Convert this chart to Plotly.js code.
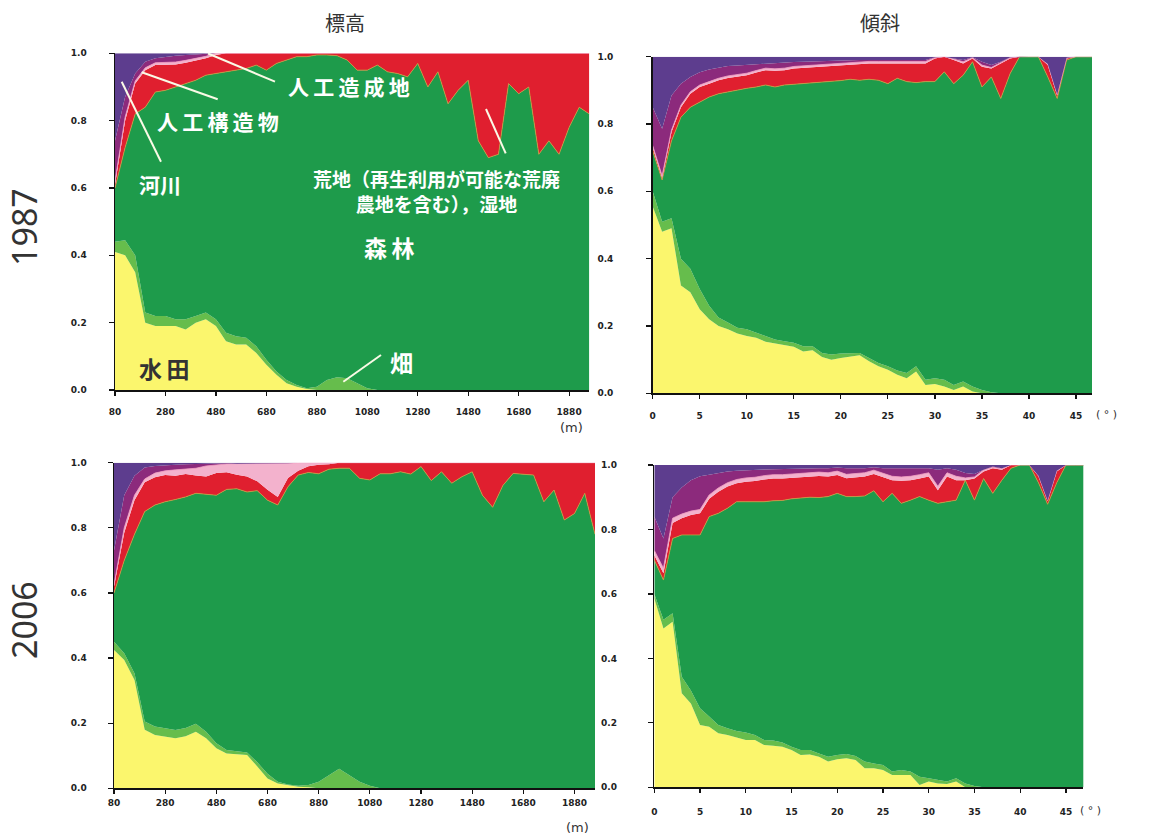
<!DOCTYPE html>
<html><head><meta charset="utf-8">
<script src="https://cdn.plot.ly/plotly-3.0.1.min.js"></script>
<style>html,body{margin:0;padding:0;background:#fff}#chart{width:1169px;height:839px}</style>
</head><body><div id="chart"></div>
<script>
// ---- categories (land use, bottom to top) ----
const landUse = ['水田','畑','森林','荒地（再生利用が可能な荒廃農地を含む），湿地','人工造成地','人工構造物','河川'];
const colors  = ['#fbf66d','#66bd4c','#1e9b4b','#e01f2f','#f3b2cd','#8c2a7c','#5d3d8e'];

// ---- x categories ----
const elevX = [80,120,160,200,240,280,320,360,400,440,480,520,560,600,640,680,720,760,800,840,880,920,960,1000,1040,1080,1120,1160,1200,1240,1280,1320,1360,1400,1440,1480,1520,1560,1600,1640,1680,1720,1760,1800,1840,1880,1920,1960];
const slopeX = [0,1,2,3,4,5,6,7,8,9,10,11,12,13,14,15,16,17,18,19,20,21,22,23,24,25,26,27,28,29,30,31,32,33,34,35,36,37,38,39,40,41,42,43,44,45,46,47];
const elevTicks = [80,280,480,680,880,1080,1280,1480,1680,1880];
const slopeTicks = [0,5,10,15,20,25,30,35,40,45];
const shareTicks = [0,0.2,0.4,0.6,0.8,1.0];

// ---- cumulative share (upper edge of each land use), 1987, elevation ----
const e87_paddy  = [0.41,0.40,0.35,0.20,0.19,0.19,0.19,0.18,0.20,0.21,0.19,0.145,0.135,0.135,0.11,0.075,0.045,0.02,0.01,0.003,0,0,0,0,0,0,0,0,0,0,0,0,0,0,0,0,0,0,0,0,0,0,0,0,0,0,0,0];
const e87_field  = [0.44,0.445,0.40,0.23,0.22,0.22,0.21,0.21,0.22,0.23,0.21,0.17,0.16,0.155,0.13,0.09,0.055,0.03,0.015,0.005,0.01,0.03,0.038,0.035,0.02,0.005,0,0,0,0,0,0,0,0,0,0,0,0,0,0,0,0,0,0,0,0,0,0];
const e87_forest = [0.60,0.72,0.82,0.84,0.885,0.89,0.90,0.91,0.92,0.935,0.94,0.945,0.95,0.955,0.965,0.95,0.97,0.98,0.99,0.99,0.995,0.995,0.993,0.98,0.95,0.95,0.965,0.945,0.94,0.93,0.97,0.90,0.945,0.85,0.89,0.92,0.74,0.69,0.70,0.91,0.88,0.90,0.70,0.74,0.70,0.78,0.84,0.82];
const e87_waste  = [0.61,0.80,0.91,0.95,0.965,0.965,0.967,0.972,0.978,0.985,0.995,1,1,1,1,1,1,1,1,1,1,1,1,1,1,1,1,1,1,1,1,1,1,1,1,1,1,1,1,1,1,1,1,1,1,1,1,1];
const e87_devel  = [0.62,0.81,0.918,0.957,0.972,0.972,0.974,0.979,0.985,0.991,1,1,1,1,1,1,1,1,1,1,1,1,1,1,1,1,1,1,1,1,1,1,1,1,1,1,1,1,1,1,1,1,1,1,1,1,1,1];
const e87_struct = [0.74,0.87,0.94,0.975,0.985,0.99,0.993,0.995,0.997,0.998,1,1,1,1,1,1,1,1,1,1,1,1,1,1,1,1,1,1,1,1,1,1,1,1,1,1,1,1,1,1,1,1,1,1,1,1,1,1];

// ---- 2006, elevation ----
const e06_paddy  = [0.425,0.394,0.333,0.18,0.164,0.159,0.154,0.16,0.174,0.154,0.123,0.107,0.105,0.102,0.067,0.03,0.015,0.01,0.005,0.003,0,0,0,0,0,0,0,0,0,0,0,0,0,0,0,0,0,0,0,0,0,0,0,0,0,0,0,0];
const e06_field  = [0.45,0.415,0.353,0.205,0.19,0.184,0.179,0.185,0.198,0.174,0.138,0.118,0.113,0.11,0.08,0.045,0.02,0.012,0.008,0.01,0.02,0.04,0.06,0.04,0.02,0.008,0,0,0,0,0,0,0,0,0,0,0,0,0,0,0,0,0,0,0,0,0,0];
const e06_forest = [0.60,0.70,0.78,0.85,0.87,0.88,0.887,0.895,0.906,0.903,0.90,0.918,0.92,0.91,0.914,0.885,0.87,0.926,0.962,0.97,0.966,0.98,0.983,0.983,0.952,0.947,0.966,0.966,0.972,0.965,0.988,0.945,0.972,0.937,0.957,0.972,0.90,0.863,0.93,0.967,0.965,0.962,0.88,0.916,0.824,0.844,0.906,0.78];
const e06_waste  = [0.62,0.785,0.885,0.94,0.955,0.962,0.96,0.965,0.961,0.958,0.968,0.971,0.963,0.958,0.943,0.917,0.895,0.953,0.975,0.989,0.994,0.995,1,1,1,1,1,1,1,1,1,1,1,1,1,1,1,1,1,1,1,1,1,1,1,1,1,1];
const e06_devel  = [0.625,0.80,0.90,0.95,0.968,0.975,0.978,0.981,0.983,0.99,0.994,0.996,0.997,0.997,0.997,0.997,0.997,0.998,1,1,1,1,1,1,1,1,1,1,1,1,1,1,1,1,1,1,1,1,1,1,1,1,1,1,1,1,1,1];
const e06_struct = [0.73,0.90,0.96,0.985,0.99,0.993,0.994,0.995,0.996,0.997,0.998,0.998,0.997,0.997,0.997,0.997,0.997,0.998,1,1,1,1,1,1,1,1,1,1,1,1,1,1,1,1,1,1,1,1,1,1,1,1,1,1,1,1,1,1];

// ---- 1987, slope ----
const s87_paddy  = [0.555,0.48,0.49,0.32,0.30,0.25,0.22,0.20,0.19,0.178,0.17,0.165,0.153,0.148,0.143,0.138,0.124,0.128,0.108,0.10,0.105,0.11,0.113,0.095,0.08,0.07,0.055,0.045,0.065,0.025,0.028,0.02,0.01,0.02,0.005,0,0,0,0,0,0,0,0,0,0,0,0,0];
const s87_field  = [0.60,0.51,0.52,0.40,0.37,0.31,0.26,0.225,0.21,0.195,0.19,0.18,0.17,0.16,0.155,0.15,0.14,0.14,0.12,0.115,0.118,0.12,0.12,0.105,0.09,0.08,0.068,0.06,0.08,0.04,0.045,0.04,0.025,0.035,0.02,0.01,0.003,0,0,0,0,0,0,0,0,0,0,0];
const s87_forest = [0.72,0.634,0.75,0.82,0.85,0.866,0.88,0.89,0.896,0.90,0.906,0.91,0.916,0.91,0.916,0.918,0.92,0.923,0.923,0.926,0.929,0.933,0.93,0.933,0.93,0.92,0.936,0.926,0.923,0.926,0.926,0.955,0.92,0.945,0.985,0.91,0.94,0.876,0.95,1,1,1,0.94,0.876,0.99,1,1,1];
const s87_waste  = [0.73,0.64,0.776,0.85,0.89,0.91,0.92,0.93,0.937,0.94,0.945,0.953,0.96,0.958,0.96,0.965,0.967,0.969,0.972,0.974,0.976,0.978,0.98,0.98,0.98,0.98,0.98,0.98,0.98,0.98,0.995,1,0.99,0.98,0.995,0.97,0.965,0.98,0.995,1,1,1,0.975,0.885,0.995,1,1,1];
const s87_devel  = [0.736,0.646,0.782,0.856,0.896,0.916,0.926,0.936,0.943,0.946,0.951,0.959,0.966,0.964,0.966,0.971,0.973,0.975,0.978,0.98,0.982,0.984,0.986,0.986,0.986,0.986,0.986,0.986,0.986,0.986,0.997,1,0.993,0.985,0.997,0.975,0.968,0.983,0.997,1,1,1,0.978,0.888,0.997,1,1,1];
const s87_struct = [0.85,0.786,0.885,0.92,0.94,0.954,0.962,0.967,0.972,0.974,0.976,0.978,0.98,0.982,0.982,0.984,0.985,0.986,0.987,0.988,0.99,0.99,0.99,0.99,0.99,0.99,0.99,0.99,0.99,0.99,0.998,1,0.995,0.99,0.998,0.985,0.975,0.985,0.998,1,1,1,0.978,0.888,0.997,1,1,1];

// ---- 2006, slope ----
const s06_paddy  = [0.586,0.493,0.514,0.292,0.26,0.193,0.188,0.168,0.162,0.154,0.147,0.147,0.131,0.129,0.126,0.116,0.10,0.102,0.095,0.08,0.087,0.09,0.085,0.059,0.059,0.054,0.038,0.038,0.038,0.007,0.018,0.012,0.01,0.018,0,0,0,0,0,0,0,0,0,0,0,0,0,0];
const s06_field  = [0.60,0.52,0.54,0.343,0.30,0.245,0.22,0.193,0.183,0.175,0.17,0.162,0.147,0.145,0.139,0.126,0.116,0.116,0.105,0.095,0.10,0.103,0.097,0.08,0.074,0.069,0.049,0.054,0.049,0.033,0.028,0.023,0.018,0.028,0.012,0.004,0,0,0,0,0,0,0,0,0,0,0,0];
const s06_forest = [0.705,0.643,0.772,0.783,0.783,0.783,0.84,0.85,0.866,0.886,0.886,0.886,0.886,0.889,0.89,0.895,0.897,0.90,0.899,0.902,0.912,0.902,0.902,0.904,0.92,0.886,0.912,0.881,0.891,0.902,0.891,0.881,0.886,0.891,0.953,0.891,0.958,0.912,0.953,0.99,1,1,0.945,0.878,0.945,1,1,1];
const s06_waste  = [0.72,0.664,0.82,0.835,0.845,0.85,0.895,0.917,0.933,0.943,0.948,0.95,0.955,0.958,0.958,0.96,0.964,0.964,0.966,0.964,0.969,0.959,0.962,0.964,0.972,0.962,0.953,0.951,0.953,0.958,0.964,0.922,0.964,0.953,0.953,0.958,0.98,0.99,0.985,1,1,1,0.965,0.888,0.98,1,1,1];
const s06_devel  = [0.735,0.68,0.835,0.848,0.857,0.862,0.907,0.929,0.945,0.955,0.96,0.962,0.967,0.97,0.97,0.972,0.976,0.976,0.978,0.976,0.981,0.971,0.974,0.976,0.984,0.974,0.965,0.963,0.965,0.97,0.976,0.934,0.976,0.965,0.96,0.963,0.985,0.993,0.988,1,1,1,0.967,0.89,0.982,1,1,1];
const s06_struct = [0.84,0.772,0.90,0.93,0.953,0.965,0.97,0.975,0.98,0.982,0.984,0.985,0.986,0.987,0.988,0.988,0.989,0.99,0.99,0.99,0.992,0.99,0.99,0.99,0.993,0.99,0.99,0.99,0.99,0.99,0.99,0.985,0.99,0.985,0.975,0.972,0.985,0.995,0.99,1,1,1,0.967,0.89,0.982,1,1,1];

const TOTAL = 1.0; // every bin sums to 100 %

const W = 1169, H = 839;
const PX = p => p / W, PY = p => 1 - p / H;

const panels = [
  {x: elevX,  layers: [e87_paddy,e87_field,e87_forest,e87_waste,e87_devel,e87_struct], ax: 'x',  ay: 'y'},
  {x: slopeX, layers: [s87_paddy,s87_field,s87_forest,s87_waste,s87_devel,s87_struct], ax: 'x2', ay: 'y2'},
  {x: elevX,  layers: [e06_paddy,e06_field,e06_forest,e06_waste,e06_devel,e06_struct], ax: 'x3', ay: 'y3'},
  {x: slopeX, layers: [s06_paddy,s06_field,s06_forest,s06_waste,s06_devel,s06_struct], ax: 'x4', ay: 'y4'}
];

const traces = [];
panels.forEach(p => {
  const tops = p.layers.concat([p.x.map(() => TOTAL)]);
  tops.forEach((y, i) => {
    let line = {width: 0, color: colors[i]};
    if (i === 2) line = {width: 0.8, color: '#c2a23e'};
    if (i === 4) line = {width: 0.8, color: '#f29cc0'};
    traces.push({
      type: 'scatter', mode: 'lines', x: p.x, y: y, name: landUse[i],
      fill: i === 0 ? 'tozeroy' : 'tonexty', fillcolor: colors[i],
      line: line, xaxis: p.ax, yaxis: p.ay, hoverinfo: 'skip', showlegend: false
    });
  });
});

const tickFont = {family: 'DejaVu Sans', size: 9, color: '#222', weight: 'bold'};
function xAx(dom, range, ticks, standoff) {
  return {domain: dom, range: range, tickvals: ticks, showline: true, linecolor: '#111', linewidth: 1.5,
    ticks: 'outside', ticklen: 4, tickcolor: '#111', tickwidth: 1.2, showgrid: false, zeroline: false,
    tickfont: tickFont, ticklabelstandoff: standoff, fixedrange: true};
}
function yAx(dom, standoff, anchor) {
  return {domain: dom, range: [0, 1], tickvals: shareTicks, tickformat: '.1f', showline: true, linecolor: '#111',
    linewidth: 1.5, ticks: 'outside', ticklen: 5, tickcolor: '#111', tickwidth: 1.2, showgrid: false,
    zeroline: false, tickfont: tickFont, ticklabelstandoff: standoff, anchor: anchor, fixedrange: true};
}

const layout = {
  width: W, height: H, margin: {l: 0, r: 0, t: 0, b: 0}, paper_bgcolor: '#fff', plot_bgcolor: '#fff',
  showlegend: false,
  xaxis:  xAx([PX(115), PX(589.3)], [80, 1960], elevTicks, 9),
  yaxis:  yAx([PY(390), PY(53.3)], 20, 'x'),
  xaxis2: xAx([PX(652.7), PX(1092)], [0, 46.7], slopeTicks, 9),
  yaxis2: yAx([PY(393.3), PY(56.7)], 31, 'x2'),
  xaxis3: xAx([PX(114), PX(595)], [80, 1960], elevTicks, 1),
  yaxis3: yAx([PY(788.3), PY(462.7)], 19, 'x3'),
  xaxis4: xAx([PX(654.3), PX(1083.3)], [0, 46.9], slopeTicks, 11),
  yaxis4: yAx([PY(787.3), PY(465)], 29, 'x4'),
  annotations: [],
  shapes: []
};
layout.xaxis.anchor = 'y'; layout.xaxis2.anchor = 'y2'; layout.xaxis3.anchor = 'y3'; layout.xaxis4.anchor = 'y4';

const cjk = 'Noto Sans CJK JP';
function note(text, x, y, size, color, bold, extra) {
  layout.annotations.push(Object.assign({
    text: text, xref: 'paper', yref: 'paper', x: PX(x), y: PY(y), xanchor: 'center', yanchor: 'middle',
    showarrow: false, font: {family: cjk, size: size, color: color, weight: bold ? 'bold' : 'normal'}
  }, extra || {}));
}
const sp = s => s.split('').join('\u2009'); // slight letter spacing as in the original labels
// column and row titles
note('標高', 345, 23, 20, '#333', false);
note('傾斜', 880, 23, 20, '#333', false);
note('1987', 24, 227, 34, '#333', false, {textangle: -90, font: {family: 'Noto Sans', size: 34, color: '#333'}});
note('2006', 24, 620, 34, '#333', false, {textangle: -90, font: {family: 'Noto Sans', size: 34, color: '#333'}});
// units
note('(m)', 571, 427, 13, '#333', false, {font: {family: 'DejaVu Sans', size: 13, color: '#333'}});
note('(m)', 577, 827, 13, '#333', false, {font: {family: 'DejaVu Sans', size: 13, color: '#333'}});
note('( ° )', 1106, 414, 11, '#333', false, {font: {family: 'DejaVu Sans', size: 11, color: '#333'}});
note('( ° )', 1090, 810, 11, '#333', false, {font: {family: 'DejaVu Sans', size: 11, color: '#333'}});
// in-chart labels
note(sp('人工造成地'), 349, 86, 21, '#fff', true);
note(sp('人工構造物'), 218, 121, 21, '#fff', true);
note('河川', 160, 184, 21, '#fff', true);
note('荒地（再生利用が可能な荒廃<br>農地を含む），湿地', 436, 191, 19, '#fff', true, {align: 'center'});
note(sp('森林'), 390, 247, 23, '#fff', true);
note(sp('水田'), 164, 368, 23, '#333', true);
note('畑', 401, 362, 23, '#fff', true);

function callout(x0, y0, x1, y1) {
  layout.shapes.push({type: 'line', xref: 'paper', yref: 'paper', x0: PX(x0), y0: PY(y0), x1: PX(x1), y1: PY(y1),
    line: {color: '#fafae6', width: 2}});
}
callout(208, 53.5, 275, 81.7);
callout(141.7, 72.3, 217.7, 99.3);
callout(121.7, 81.7, 161, 161.7);
callout(486, 109, 505.7, 153.3);
callout(343.3, 381.7, 381, 355);

Plotly.newPlot('chart', traces, layout, {staticPlot: true, displayModeBar: false});
</script>
</body></html>
